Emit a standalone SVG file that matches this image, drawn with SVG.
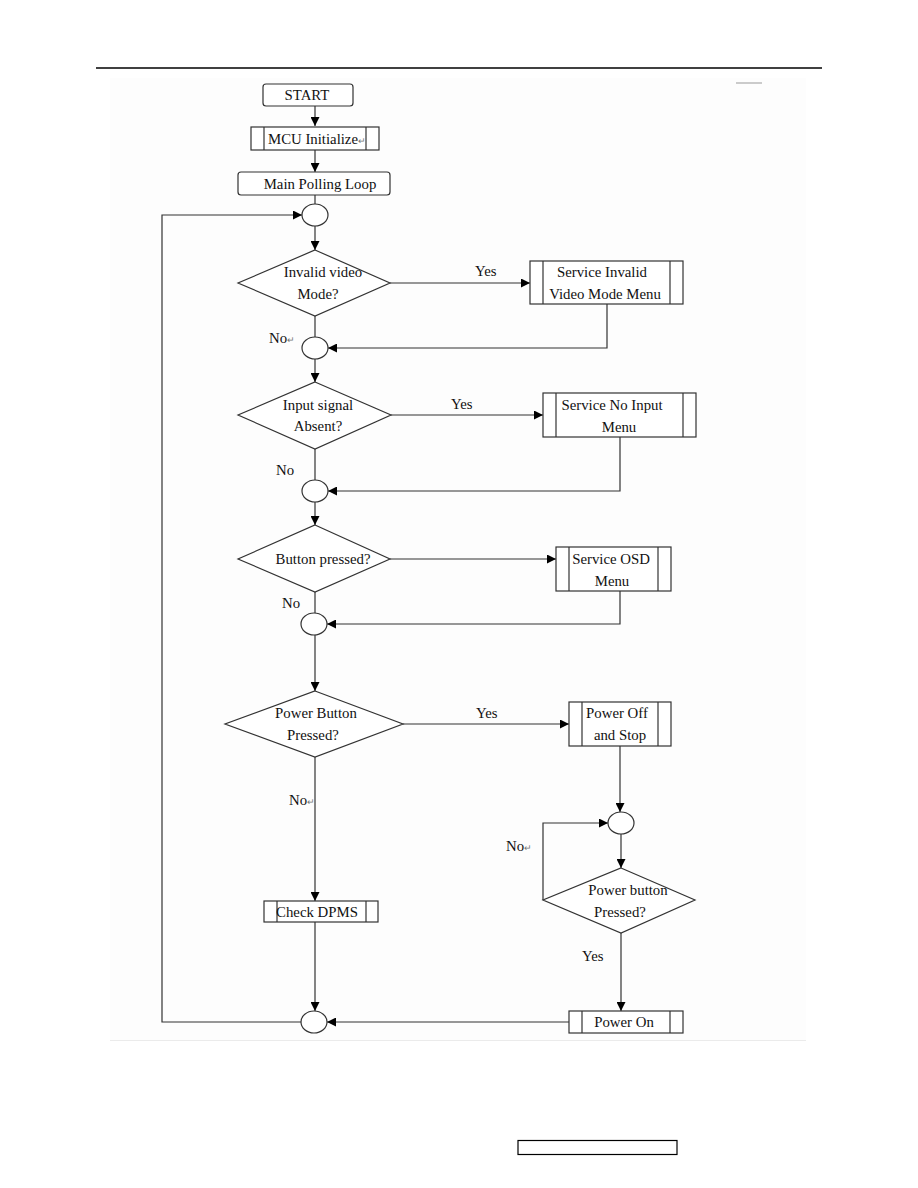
<svg xmlns="http://www.w3.org/2000/svg" width="918" height="1188" viewBox="0 0 918 1188">
<defs>
<marker id="ah" viewBox="0 0 10 10" refX="10" refY="5" markerWidth="9" markerHeight="9" markerUnits="userSpaceOnUse" orient="auto"><path d="M0,0 L10,5 L0,10 z" fill="#000"/></marker>
</defs>
<style>
.n{fill:#fff;stroke:#333;stroke-width:1.2}
.il{stroke:#333;stroke-width:1.2}
.c{fill:none;stroke:#333;stroke-width:1.2}
.a{fill:none;stroke:#333;stroke-width:1.2;marker-end:url(#ah)}
text{font-family:"Liberation Serif","Times New Roman",serif;font-size:14.8px;fill:#111}
.m{text-anchor:middle}
.r{font-size:9px;fill:#777}
</style>
<rect width="918" height="1188" fill="#fff"/>
<rect x="110" y="78" width="696" height="962" fill="#fdfdfd"/>
<line x1="110" y1="1040.5" x2="806" y2="1040.5" stroke="#ebebeb" stroke-width="1"/>
<line x1="96" y1="68" x2="822" y2="68" stroke="#000" stroke-width="1.5"/>
<line x1="736" y1="83" x2="762" y2="83" stroke="#999" stroke-width="1"/>

<g id="connectors">
<line class="a" x1="315" y1="106" x2="315" y2="126"/>
<line class="a" x1="315" y1="150" x2="315" y2="172"/>
<line class="c" x1="315" y1="195" x2="315" y2="204"/>
<line class="a" x1="315" y1="226" x2="315" y2="250"/>
<line class="a" x1="390" y1="283" x2="530" y2="283"/>
<polyline class="a" points="607,304 607,348 328,348"/>
<line class="c" x1="315" y1="316" x2="315" y2="337"/>
<line class="a" x1="315" y1="359" x2="315" y2="382"/>
<line class="a" x1="391" y1="415" x2="543" y2="415"/>
<polyline class="a" points="620,437 620,491 328,491"/>
<line class="c" x1="315" y1="449" x2="315" y2="480"/>
<line class="a" x1="315" y1="502" x2="315" y2="525"/>
<line class="a" x1="390" y1="559" x2="556" y2="559"/>
<polyline class="a" points="620,591 620,624 327,624"/>
<line class="c" x1="315" y1="592" x2="315" y2="613"/>
<line class="a" x1="315" y1="635" x2="315" y2="691"/>
<line class="a" x1="403" y1="724" x2="569" y2="724"/>
<line class="a" x1="620" y1="746" x2="620" y2="812"/>
<line class="a" x1="621" y1="834" x2="621" y2="868"/>
<polyline class="a" points="543,900 543,823 608,823"/>
<line class="a" x1="621" y1="933" x2="621" y2="1011"/>
<line class="a" x1="569" y1="1022" x2="327" y2="1022"/>
<line class="a" x1="315" y1="757" x2="315" y2="901"/>
<line class="a" x1="315" y1="922" x2="315" y2="1011"/>
<polyline class="a" points="302,1022 162,1022 162,215 302,215"/>
</g>

<g id="start"><rect class="n" x="263" y="84" width="90" height="22" rx="3"/><text class="m" x="307" y="100">START</text></g>
<g id="mcu"><rect class="n" x="251" y="127" width="128" height="23"/><line class="il" x1="264" y1="127" x2="264" y2="150"/><line class="il" x1="366" y1="127" x2="366" y2="150"/><text x="268" y="144">MCU Initialize<tspan class="r">↵</tspan></text></g>
<g id="mainloop"><rect class="n" x="238" y="172" width="152" height="23" rx="3"/><text class="m" x="320" y="189">Main Polling Loop</text></g>
<g id="j1"><ellipse class="n" cx="315" cy="215" rx="13" ry="11"/></g>

<g id="d1"><polygon class="n" points="315,250 390,283 315,316 238,283"/><text class="m" x="323" y="277">Invalid video</text><text class="m" x="318" y="299">Mode?</text></g>
<text x="475" y="276">Yes</text>
<g id="svc1"><rect class="n" x="530" y="261" width="153" height="43"/><line class="il" x1="543" y1="261" x2="543" y2="304"/><line class="il" x1="670" y1="261" x2="670" y2="304"/><text class="m" x="602" y="277">Service Invalid</text><text class="m" x="605" y="299">Video Mode Menu</text></g>
<text x="269" y="343">No<tspan class="r">↵</tspan></text>
<g id="j2"><ellipse class="n" cx="315" cy="348" rx="13" ry="11"/></g>

<g id="d2"><polygon class="n" points="315,382 391,415 315,449 238,415"/><text class="m" x="318" y="410">Input signal</text><text class="m" x="318" y="431">Absent?</text></g>
<text x="451" y="409">Yes</text>
<g id="svc2"><rect class="n" x="543" y="393" width="153" height="44"/><line class="il" x1="556" y1="393" x2="556" y2="437"/><line class="il" x1="683" y1="393" x2="683" y2="437"/><text class="m" x="612" y="410">Service No Input</text><text class="m" x="619" y="432">Menu</text></g>
<text x="276" y="475">No</text>
<g id="j3"><ellipse class="n" cx="315" cy="491" rx="13" ry="11"/></g>

<g id="d3"><polygon class="n" points="315,525 390,559 315,592 238,559"/><text class="m" x="323" y="564">Button pressed?</text></g>
<g id="svc3"><rect class="n" x="556" y="547" width="115" height="44"/><line class="il" x1="569" y1="547" x2="569" y2="591"/><line class="il" x1="658" y1="547" x2="658" y2="591"/><text class="m" x="611" y="564">Service OSD</text><text class="m" x="612" y="586">Menu</text></g>
<text x="282" y="608">No</text>
<g id="j4"><ellipse class="n" cx="314" cy="624" rx="13" ry="11"/></g>

<g id="d4"><polygon class="n" points="315,691 403,724 315,757 225,724"/><text class="m" x="316" y="718">Power Button</text><text class="m" x="313" y="740">Pressed?</text></g>
<text x="476" y="718">Yes</text>
<g id="poweroff"><rect class="n" x="569" y="702" width="102" height="44"/><line class="il" x1="582" y1="702" x2="582" y2="746"/><line class="il" x1="658" y1="702" x2="658" y2="746"/><text class="m" x="617" y="718">Power Off</text><text class="m" x="620" y="740">and Stop</text></g>
<text x="289" y="805">No<tspan class="r">↵</tspan></text>
<g id="checkdpms"><rect class="n" x="264" y="901" width="114" height="21"/><line class="il" x1="277" y1="901" x2="277" y2="922"/><line class="il" x1="366" y1="901" x2="366" y2="922"/><text class="m" x="317" y="917">Check DPMS</text></g>

<g id="j5"><ellipse class="n" cx="621" cy="823" rx="13" ry="11"/></g>
<text x="506" y="851">No<tspan class="r">↵</tspan></text>
<g id="d5"><polygon class="n" points="621,868 695,900 621,933 543,900"/><text class="m" x="628" y="895">Power button</text><text class="m" x="620" y="917">Pressed?</text></g>
<text x="582" y="961">Yes</text>
<g id="poweron"><rect class="n" x="569" y="1011" width="114" height="22"/><line class="il" x1="582" y1="1011" x2="582" y2="1033"/><line class="il" x1="670" y1="1011" x2="670" y2="1033"/><text class="m" x="624" y="1027">Power On</text></g>
<g id="j6"><ellipse class="n" cx="314" cy="1022" rx="13" ry="11"/></g>

<rect x="518" y="1140.5" width="159" height="14" fill="none" stroke="#000" stroke-width="1.2"/>
</svg>
